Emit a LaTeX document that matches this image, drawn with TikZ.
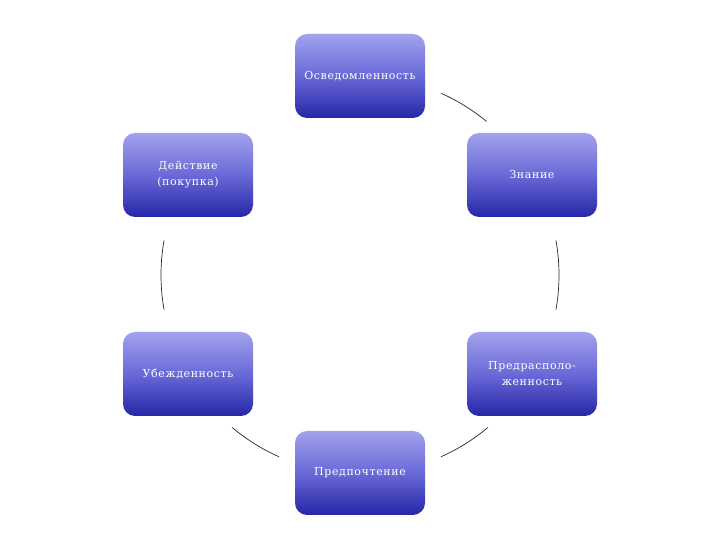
\documentclass[tikz,border=0pt]{standalone}
\usepackage{fontspec}
\setmainfont{DejaVu Serif}[LetterSpace=5.5]
\definecolor{boxtop}{RGB}{162,162,238}
\definecolor{boxmid}{RGB}{105,105,215}
\definecolor{boxbot}{RGB}{38,38,168}
\begin{document}
\begin{tikzpicture}[x=1pt,y=1pt,
  stage/.style={rectangle, rounded corners=12pt, minimum width=130pt, minimum height=84pt,
    top color=boxtop, bottom color=boxbot, middle color=boxmid, draw=none,
    text=white, font=\fontsize{11}{16}\selectfont, align=center, inner sep=2pt},
  arcline/.style={draw=black!85, line width=0.7pt}]
\useasboundingbox (0,0) rectangle (720,540);
\node[stage] (aw) at (360,464) {Осведомленность};
\node[stage] (kn) at (532,365) {Знание};
\node[stage] (pr) at (532,166) {Предрасполо-\\женность};
\node[stage] (pf) at (360,67) {Предпочтение};
\node[stage] (cv) at (188,166) {Убежденность};
\node[stage] (ac) at (188,365) {Действие\\(покупка)};
\coordinate (c) at (360,265);
\draw[arcline] ([shift={(66:199)}]c) arc[start angle=66, end angle=50.5, radius=199];
\draw[arcline] ([shift={(10:199)}]c) arc[start angle=10, end angle=-10, radius=199];
\draw[arcline] ([shift={(-50:199)}]c) arc[start angle=-50, end angle=-66, radius=199];
\draw[arcline] ([shift={(-114:199)}]c) arc[start angle=-114, end angle=-130, radius=199];
\draw[arcline] ([shift={(170:199)}]c) arc[start angle=170, end angle=190, radius=199];
\end{tikzpicture}
\end{document}
